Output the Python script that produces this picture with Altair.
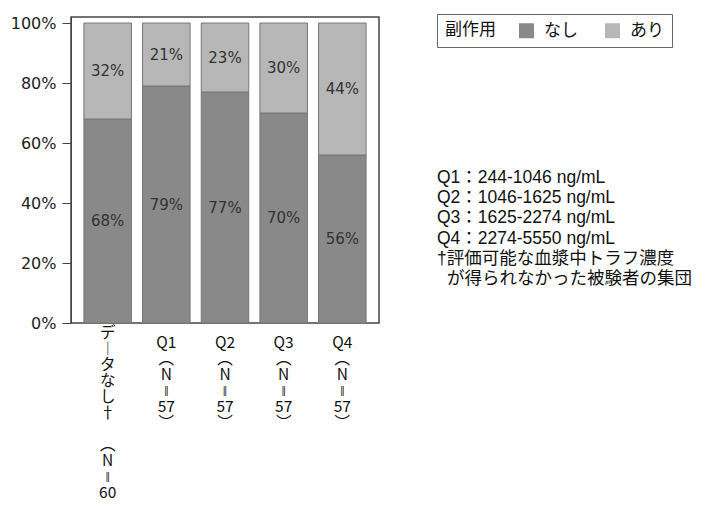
import altair as alt
import pandas as pd

# ---- data ----
categories = ["データなし†", "Q1", "Q2", "Q3", "Q4"]
n_values = [60, 57, 57, 57, 57]
nashi = [68, 79, 77, 70, 56]   # 副作用 なし (%)
ari = [32, 21, 23, 30, 44]     # 副作用 あり (%)
groups = ["なし", "あり"]
colors = ["#898989", "#b7b7b7"]
y_ticks = [0, 20, 40, 60, 80, 100]
notes = [
    "Q1：244-1046 ng/mL",
    "Q2：1046-1625 ng/mL",
    "Q3：1625-2274 ng/mL",
    "Q4：2274-5550 ng/mL",
    "†評価可能な血漿中トラフ濃度",
]
notes_cont = ["が得られなかった被験者の集団"]

VERT = {"ー": "︱"}
BLANK = "\u2800"


def vertical_label(cat, n):
    if cat.startswith("Q"):
        lines = [cat]
    else:
        lines = [VERT.get(c, c) for c in cat] + [BLANK]
    lines += ["︵", "N", "ǁ", str(n), "︶"]
    return "|".join(lines)


labels = [vertical_label(c, n) for c, n in zip(categories, n_values)]

rows = []
for lab, a, b in zip(labels, nashi, ari):
    rows.append({"label": lab, "group": groups[0], "value": a, "order": 0, "text": f"{a}%"})
    rows.append({"label": lab, "group": groups[1], "value": b, "order": 1, "text": f"{b}%"})
df = pd.DataFrame(rows)

notes_df = pd.DataFrame({"note": ["\n".join(notes)]})
cont_df = pd.DataFrame({"note": notes_cont})

FONT_JP = "Noto Sans CJK JP"
FONT_MIX = "Liberation Sans, Noto Sans CJK JP, DejaVu Sans"
FONT_NUM = "DejaVu Sans"

x_enc = alt.X(
    "label:N",
    sort=labels,
    scale=alt.Scale(paddingInner=0.19, paddingOuter=0.22),
    axis=alt.Axis(
        title=None,
        labelExpr="split(datum.label, '|')",
        labelAngle=0,
        labelAlign="center",
        labelBaseline="top",
        labelLineHeight=16,
        labelFont=FONT_JP,
        labelFontSize=15.5,
        labelColor="#111111",
        labelOverlap=False,
        labelPadding={"condition": {"test": "indexof(datum.value, 'Q') === 0", "value": 12}, "value": 2},
        ticks=False,
        domain=False,
        labelLimit=0,
    ),
)

base = alt.Chart(df).transform_stack(
    stack="value",
    groupby=["label"],
    as_=["y0", "y1"],
    sort=[alt.SortField("order", order="ascending")],
).transform_calculate(mid="(datum.y0 + datum.y1) / 2")

bars = base.mark_bar(stroke="#777777", strokeWidth=1).encode(
    x=x_enc,
    y=alt.Y(
        "y0:Q",
        scale=alt.Scale(domain=[0, 102], nice=False),
        axis=alt.Axis(
            title=None,
            values=y_ticks,
            labelExpr="datum.value + '%'",
            labelFont=FONT_NUM,
            labelFontSize=16,
            labelColor="#222222",
            labelPadding=6,
            tickSize=9,
            tickColor="#444444",
            domainColor="#444444",
            grid=False,
        ),
    ),
    y2="y1:Q",
    color=alt.Color(
        "group:N",
        scale=alt.Scale(domain=groups, range=colors),
        legend=alt.Legend(
            title="副作用",
            orient="none",
            legendX=366,
            legendY=-3,
            direction="horizontal",
            titleOrient="left",
            titleFont=FONT_JP,
            titleFontSize=17,
            titleFontWeight="normal",
            titleColor="#111111",
            titleBaseline="middle",
            titlePadding=22,
            labelFont=FONT_JP,
            labelFontSize=17,
            labelColor="#111111",
            labelOffset=9,
            symbolType="square",
            symbolSize=225,
            symbolStrokeWidth=0,
            columnPadding=26,
            strokeColor="#666666",
            fillColor="white",
            padding=8,
        ),
    ),
)

pct = base.mark_text(font=FONT_NUM, fontSize=15, color="#333333").encode(
    x=x_enc,
    y=alt.Y("mid:Q"),
    text="text:N",
)

note_style = dict(
    align="left",
    baseline="alphabetic",
    lineBreak="\n",
    lineHeight=20.2,
    font=FONT_MIX,
    fontSize=17.5,
    color="#111111",
)

note_text = alt.Chart(notes_df).mark_text(**note_style).encode(
    text="note:N",
    x=alt.value(366),
    y=alt.value(166),
)

note_cont = alt.Chart(cont_df).mark_text(**note_style, dx=10).encode(
    text="note:N",
    x=alt.value(366),
    y=alt.value(166 + 5 * 20.2),
)

chart = (
    alt.layer(bars, pct, note_text, note_cont)
    .properties(
        width=308,
        height=306,
        autosize=alt.AutoSizeParams(type="none"),
        padding={"left": 63, "top": 9, "right": 315, "bottom": 177},
    )
    .configure_view(stroke="#444444", strokeWidth=1.5)
)

chart.save("out.html", embed_options={"renderer": "svg", "actions": False})
